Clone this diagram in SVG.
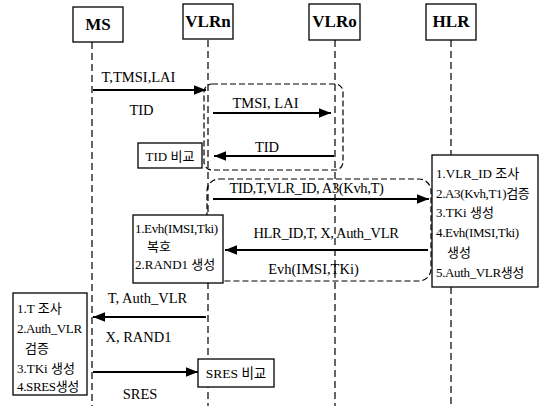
<svg xmlns="http://www.w3.org/2000/svg" width="540" height="406" viewBox="0 0 540 406">
<style>
  text { font-family: "Liberation Serif", "Noto Sans CJK KR", serif; fill: #000; }
  .hdr { font-size: 17px; font-weight: bold; text-anchor: middle; }
  .lbl { font-size: 14.5px; text-anchor: middle; }
  .box { font-size: 13px; }
  .mid { text-anchor: middle; }
  .tight { letter-spacing: -0.35px; }
  .node { fill: #fff; stroke: #000; stroke-width: 1.3; }
  .life { fill: none; stroke: #000; stroke-width: 1.2; stroke-dasharray: 7,4; }
  .grp { fill: none; stroke: #000; stroke-width: 1.2; stroke-dasharray: 6,3; }
  .msg { fill: none; stroke: #000; stroke-width: 2; marker-end: url(#ah); }
</style>
<defs>
  <marker id="ah" viewBox="0 0 10 8" refX="10" refY="4" markerWidth="12" markerHeight="10" markerUnits="userSpaceOnUse" orient="auto">
    <path d="M0,0 L10,4 L0,8 Z" fill="#000"/>
  </marker>
</defs>
<rect width="540" height="406" fill="#fff"/>

<g id="lifelines">
  <line class="life" x1="92" y1="42" x2="92" y2="406"/>
  <line class="life" x1="208" y1="40" x2="208" y2="406"/>
  <line class="life" x1="335" y1="40" x2="335" y2="406"/>
  <line class="life" x1="451" y1="40" x2="451" y2="155"/>
  <line class="life" x1="451" y1="287" x2="451" y2="406"/>
</g>

<g id="groups">
  <rect class="grp" x="204" y="84" width="139" height="86" rx="8"/>
  <rect class="grp" x="207" y="179" width="224" height="102" rx="12"/>
</g>

<g id="MS"><rect class="node" x="73" y="7" width="50" height="35"/><text class="hdr" x="98" y="30">MS</text></g>
<g id="VLRn"><rect class="node" x="183" y="4" width="50" height="35"/><text class="hdr" x="208" y="27">VLRn</text></g>
<g id="VLRo"><rect class="node" x="309" y="4" width="51" height="36"/><text class="hdr" x="334.5" y="27">VLRo</text></g>
<g id="HLR"><rect class="node" x="426" y="4" width="50" height="36"/><text class="hdr" x="451" y="27">HLR</text></g>

<g id="connectors">
  <line class="msg" x1="93" y1="90" x2="206" y2="90"/>
  <line class="msg" x1="213" y1="113" x2="331" y2="113"/>
  <line class="msg" x1="334" y1="156" x2="214" y2="156"/>
  <line class="msg" x1="213" y1="199" x2="429" y2="199"/>
  <line class="msg" x1="428" y1="250" x2="225" y2="250"/>
  <line class="msg" x1="206" y1="317" x2="93" y2="317"/>
  <line class="msg" x1="93" y1="372" x2="198" y2="372"/>
</g>

<g id="labels">
  <text class="lbl" x="138.5" y="82">T,TMSI,LAI</text>
  <text class="lbl" x="141.5" y="115">TID</text>
  <text class="lbl" x="265.5" y="108">TMSI, LAI</text>
  <text class="lbl" x="267" y="152">TID</text>
  <text class="lbl tight" x="306.5" y="193">TID,T,VLR_ID, A3(Kvh,T)</text>
  <text class="lbl tight" x="326" y="238">HLR_ID,T, X, Auth_VLR</text>
  <text class="lbl" x="313.5" y="274">Evh(IMSI,TKi)</text>
  <text class="lbl" x="147.5" y="303">T, Auth_VLR</text>
  <text class="lbl" x="138.5" y="342">X, RAND1</text>
  <text class="lbl" x="140" y="399">SRES</text>
</g>

<g id="tid-compare">
  <rect class="node" x="138" y="143" width="64" height="25"/>
  <text class="box mid" x="170" y="161">TID 비교</text>
</g>

<g id="vlrn-proc">
  <rect class="node" x="133" y="215" width="90" height="68"/>
  <text class="box tight" x="135" y="233">1.Evh(IMSI,Tki)</text>
  <text class="box" x="147" y="251">복호</text>
  <text class="box" x="135" y="269">2.RAND1 생성</text>
</g>

<g id="hlr-proc">
  <rect class="node" x="432" y="155" width="106" height="132"/>
  <text class="box" x="436" y="178">1.VLR_ID 조사</text>
  <text class="box tight" x="436" y="198">2.A3(Kvh,T1)검증</text>
  <text class="box" x="436" y="217">3.TKi 생성</text>
  <text class="box tight" x="436" y="237">4.Evh(IMSI,Tki)</text>
  <text class="box" x="447" y="257">생성</text>
  <text class="box tight" x="436" y="277">5.Auth_VLR생성</text>
</g>

<g id="ms-proc">
  <rect class="node" x="13" y="293" width="74" height="102"/>
  <text class="box" x="17" y="313">1.T 조사</text>
  <text class="box tight" x="17" y="333">2.Auth_VLR</text>
  <text class="box" x="25" y="353">검증</text>
  <text class="box" x="17" y="373">3.TKi 생성</text>
  <text class="box tight" x="17" y="391">4.SRES생성</text>
</g>

<g id="sres-compare">
  <rect class="node" x="198" y="359" width="76" height="28"/>
  <text class="box mid" x="236" y="378" style="font-size:13.5px">SRES 비교</text>
</g>
</svg>
